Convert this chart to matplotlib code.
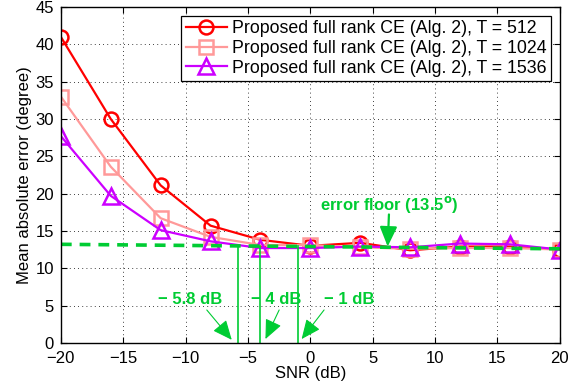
import numpy as np
import matplotlib.pyplot as plt

plt.rcParams['font.family'] = ['Liberation Sans', 'DejaVu Sans']

snr = [-20, -16, -12, -8, -4, 0, 4, 8, 12, 16, 20]
mae_512 = [41.0, 30.0, 21.1, 15.7, 13.8, 13.0, 13.4, 12.4, 12.9, 12.9, 12.5]
mae_1024 = [33.0, 23.6, 16.7, 14.2, 13.1, 13.1, 12.8, 12.6, 12.7, 12.7, 12.5]
mae_1536 = [27.7, 19.7, 15.1, 13.6, 12.7, 12.7, 12.9, 12.8, 13.3, 13.2, 12.5]
labels = ['Proposed full rank CE (Alg. 2), T = 512',
          'Proposed full rank CE (Alg. 2), T = 1024',
          'Proposed full rank CE (Alg. 2), T = 1536']

floor_x = [-20, 20]
floor_y = [13.2, 12.6]
knee_snr = [-5.8, -4, -1]
knee_text = ['\u2212 5.8 dB', '\u2212 4 dB', '\u2212 1 dB']
knee_text_pos = [(-9.6, 5.8), (-2.7, 5.8), (3.1, 5.8)]
knee_arrow_from = [(-8.3, 4.4), (-2.5, 4.4), (1.1, 4.4)]
knee_arrow_to = [(-6.3, 0.4), (-3.6, 0.5), (-0.7, 0.5)]

green = '#00cc33'

fig = plt.figure(figsize=(5.85, 3.9), dpi=100)
ax = fig.add_axes([0.104, 0.121, 0.853, 0.861])

ax.plot(snr, mae_512, '-o', color='red', lw=1.6, ms=10, mfc='none', mew=1.8, label=labels[0])
ax.plot(snr, mae_1024, '-s', color='#ff9999', lw=1.6, ms=10, mfc='none', mew=1.8, label=labels[1])
ax.plot(snr, mae_1536, '-^', color='#cc00ff', lw=1.6, ms=12, mfc='none', mew=1.8, label=labels[2])

ax.plot(floor_x, floor_y, '--', color=green, lw=2.6, dashes=(3, 2.2))

for k in knee_snr:
    yk = np.interp(k, floor_x, floor_y)
    ax.plot([k, k], [0, yk], color=green, lw=1.2)

for t, p, a, b in zip(knee_text, knee_text_pos, knee_arrow_from, knee_arrow_to):
    ax.text(p[0], p[1], t, color=green, fontsize=12, fontweight='bold', ha='center', va='center')
    ax.annotate('', xy=b, xytext=a,
                arrowprops=dict(arrowstyle='-|>,head_length=0.5,head_width=0.22', color=green,
                                lw=0.8, mutation_scale=24, shrinkA=0, shrinkB=0))

ax.text(6.3, 18.6, 'error floor (13.5$^\\mathbf{o}$)', color=green, fontsize=12,
        fontweight='bold', ha='center', va='center')
ax.annotate('', xy=(6.2, 12.9), xytext=(6.3, 17.2),
            arrowprops=dict(arrowstyle='-|>,head_length=0.5,head_width=0.22', color=green,
                            lw=1.6, mutation_scale=24, shrinkA=0, shrinkB=0))

ax.set_xlim(-20, 20)
ax.set_ylim(0, 45)
ax.set_xticks(np.arange(-20, 21, 5))
ax.set_yticks(np.arange(0, 46, 5))
ax.tick_params(direction='in', top=True, right=True, labelsize=12, length=4)
ax.tick_params(axis='x', pad=6)
ax.tick_params(axis='y', pad=5)
ax.grid(True, linestyle=(0, (1, 4)), color='black', lw=0.6)
for s in ax.spines.values():
    s.set_linewidth(1.0)
ax.set_xlabel('SNR (dB)', fontsize=12, labelpad=0)
ax.set_ylabel('Mean absolute error (degree)', fontsize=12, labelpad=2)

leg = ax.legend(loc='upper right', fontsize=12.8, handlelength=2.3, fancybox=False,
                framealpha=1, edgecolor='black', borderpad=0.25, labelspacing=0.15,
                handletextpad=0.3, borderaxespad=0.5)
leg.get_frame().set_linewidth(0.9)

fig.savefig('out.png', dpi=100)
